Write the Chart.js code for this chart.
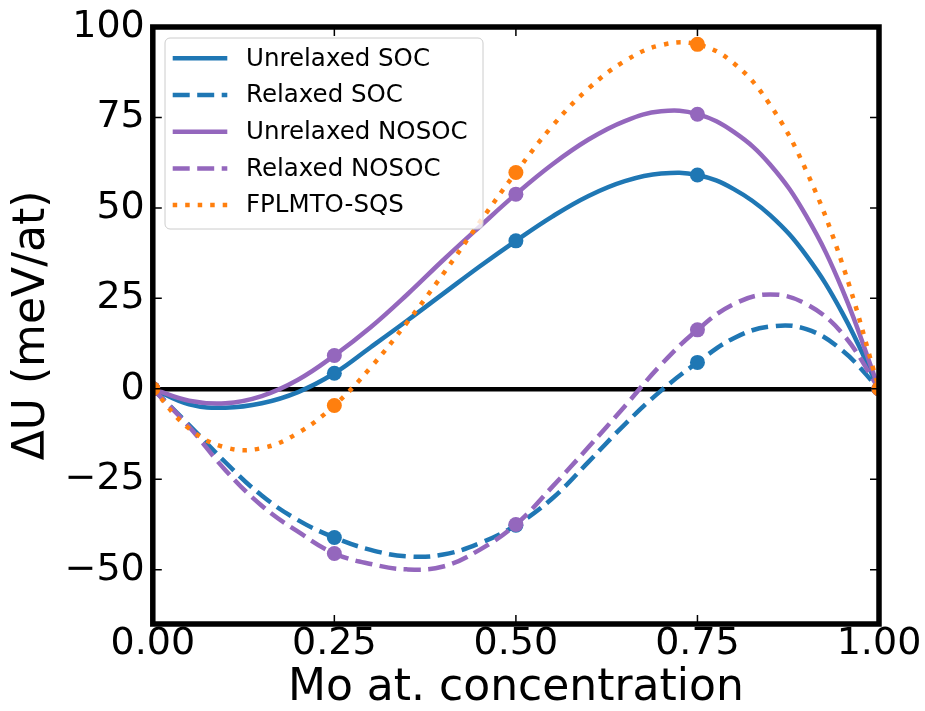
<!DOCTYPE html>
<html>
<head>
<meta charset="utf-8">
<script src="https://cdn.jsdelivr.net/npm/chart.js@4.4.1/dist/chart.umd.min.js"></script>
<style>
    html, body { margin: 0; padding: 0; background: #fff; }
    #wrap { width: 925px; height: 711px; }
</style>
</head>
<body>
<div id="wrap"><canvas id="chart" width="925" height="711"></canvas></div>
<script>
// fitted curves, every 0.05
const xGrid = [0, 0.05, 0.1, 0.15, 0.2, 0.25, 0.3, 0.35, 0.4, 0.45, 0.5, 0.55, 0.6, 0.65, 0.7, 0.75, 0.8, 0.85, 0.9, 0.95, 1];
const unrelaxedSoc   = [0, -4.3, -5.2, -4.0, -0.9, 4.3, 11.5, 18.8, 26.3, 33.8, 40.9, 47.6, 53.3, 57.4, 59.5, 59.1, 55.2, 48.0, 36.8, 20.8, 0];
const relaxedSoc     = [0, -10.0, -20.3, -29.5, -36.3, -41.1, -44.5, -46.3, -45.8, -42.7, -37.7, -30.3, -20.2, -9.8, -0.5, 7.3, 14.0, 17.2, 16.5, 10.5, 0];
const unrelaxedNosoc = [0, -3.3, -4.0, -2.0, 2.5, 9.2, 17.0, 26.0, 35.6, 44.8, 53.8, 62.0, 68.9, 74.0, 76.7, 75.9, 71.0, 62.0, 47.7, 27.2, 0];
const relaxedNosoc   = [0, -10.5, -22.5, -32.3, -39.5, -45.5, -48.4, -49.9, -49.1, -44.5, -37.5, -27.1, -16.1, -4.8, 6.7, 16.3, 23.4, 26.1, 23.4, 15.2, 0];
const fplmtoSqs      = [0, -11.0, -16.2, -16.4, -12.2, -4.6, 5.9, 18.3, 31.8, 46.0, 59.8, 72.6, 83.0, 90.6, 95.0, 95.2, 90.0, 78.5, 60.2, 34.2, 0];

// calculated points
const dotX = [0, 0.25, 0.5, 0.75, 1];
const unrelaxedSocDots   = [0, 4.3, 40.9, 59.1, 0];
const relaxedSocDots     = [0, -41.1, -37.7, 7.3, 0];
const unrelaxedNosocDots = [0, 9.2, 53.8, 75.9, 0];
const relaxedNosocDots   = [0, -45.5, -37.5, 16.3, 0];
const fplmtoDots         = [0, -4.6, 59.8, 95.2, 0];

const xTicks = [0, 0.25, 0.5, 0.75, 1];
const yTicks = [-50, -25, 0, 25, 50, 75, 100];

const BLUE = '#1f77b4';
const ORANGE = '#ff7f0e';
const PURPLE = '#9467bd';
const FONT = "'DejaVu Sans', sans-serif";

function toPoints(xs, ys) {
    return xs.map((x, i) => ({ x: x, y: ys[i] }));
}

const series = [
    { label: 'Unrelaxed SOC', curve: unrelaxedSoc, dots: unrelaxedSocDots, color: BLUE, dash: [] },
    { label: 'Relaxed SOC', curve: relaxedSoc, dots: relaxedSocDots, color: BLUE, dash: [17, 7.5] },
    { label: 'Unrelaxed NOSOC', curve: unrelaxedNosoc, dots: unrelaxedNosocDots, color: PURPLE, dash: [] },
    { label: 'Relaxed NOSOC', curve: relaxedNosoc, dots: relaxedNosocDots, color: PURPLE, dash: [17, 7.5] },
    { label: 'FPLMTO-SQS', curve: fplmtoSqs, dots: fplmtoDots, color: ORANGE, dash: [4.5, 8] }
];

const datasets = [];
series.forEach((s, i) => {
    datasets.push({
        label: s.label,
        data: toPoints(xGrid, s.curve),
        showLine: true,
        borderColor: s.color,
        borderWidth: 4.5,
        borderDash: s.dash,
        tension: 0.4,
        pointRadius: 0,
        fill: false,
        order: 20 - i * 2
    });
    datasets.push({
        data: toPoints(dotX, s.dots),
        showLine: false,
        backgroundColor: s.color,
        borderWidth: 0,
        pointRadius: 7.5,
        pointHoverRadius: 7.5,
        order: 19 - i * 2
    });
});

// spines on all four sides, inward ticks, legend box
const framePlugin = {
    id: 'framePlugin',
    afterDatasetsDraw(chart) {
        const { ctx, chartArea: a, scales } = chart;
        const tick = 9;
        ctx.save();
        ctx.strokeStyle = '#000';
        ctx.lineWidth = 1.5;
        ctx.beginPath();
        xTicks.forEach(v => {
            const px = scales.x.getPixelForValue(v);
            ctx.moveTo(px, a.bottom);
            ctx.lineTo(px, a.bottom - tick);
            ctx.moveTo(px, a.top);
            ctx.lineTo(px, a.top + tick);
        });
        yTicks.forEach(v => {
            const py = scales.y.getPixelForValue(v);
            ctx.moveTo(a.left, py);
            ctx.lineTo(a.left + tick, py);
            ctx.moveTo(a.right, py);
            ctx.lineTo(a.right - tick, py);
        });
        ctx.stroke();
        ctx.lineWidth = 5.5;
        ctx.strokeRect(a.left, a.top, a.right - a.left, a.bottom - a.top);

        // legend
        const box = { x: 165, y: 38, w: 318, h: 191 };
        ctx.beginPath();
        ctx.roundRect(box.x, box.y, box.w, box.h, 5);
        ctx.fillStyle = 'rgba(255,255,255,0.8)';
        ctx.fill();
        ctx.lineWidth = 1;
        ctx.strokeStyle = '#cccccc';
        ctx.stroke();

        ctx.font = '24.5px ' + FONT;
        ctx.textBaseline = 'middle';
        ctx.textAlign = 'left';
        const items = chart.data.datasets.filter(d => d.label);
        items.forEach((d, i) => {
            const y = 58.3 + i * 36.7;
            ctx.beginPath();
            ctx.setLineDash(d.borderDash);
            ctx.lineWidth = d.borderWidth;
            ctx.strokeStyle = d.borderColor;
            ctx.moveTo(172.7, y);
            ctx.lineTo(227.3, y);
            ctx.stroke();
            ctx.setLineDash([]);
            ctx.fillStyle = '#000';
            ctx.fillText(d.label, 246, y + 1);
        });
        ctx.restore();
    }
};

const ctx = document.getElementById('chart').getContext('2d');
const chart = new Chart(ctx, {
    type: 'scatter',
    data: { datasets: datasets },
    options: {
        responsive: false,
        animation: false,
        devicePixelRatio: 1,
        layout: { padding: { top: 26, right: 46, bottom: 0, left: 0 } },
        plugins: {
            legend: { display: false },
            tooltip: { enabled: false }
        },
        scales: {
            x: {
                type: 'linear',
                min: 0,
                max: 1,
                afterBuildTicks: scale => { scale.ticks = xTicks.map(v => ({ value: v })); },
                afterFit: scale => { scale.height = 87; },
                border: { display: false },
                grid: { display: false, drawTicks: false },
                ticks: {
                    padding: 1,
                    color: '#000',
                    maxRotation: 0,
                    font: { family: FONT, size: 38, lineHeight: 1 },
                    callback: v => v.toFixed(2)
                },
                title: {
                    display: true,
                    text: 'Mo at. concentration',
                    color: '#000',
                    padding: { top: 0, bottom: 0 },
                    font: { family: FONT, size: 44, lineHeight: 1 }
                }
            },
            y: {
                type: 'linear',
                min: -65,
                max: 100,
                afterBuildTicks: scale => { scale.ticks = yTicks.map(v => ({ value: v })); },
                afterFit: scale => { scale.width = 152.8; },
                border: { display: false },
                grid: {
                    drawTicks: false,
                    color: c => (c.tick && c.tick.value === 0) ? '#000' : 'rgba(0,0,0,0)',
                    lineWidth: 4.5
                },
                ticks: {
                    padding: 8,
                    color: '#000',
                    font: { family: FONT, size: 38, lineHeight: 1 },
                    callback: v => v < 0 ? '\u2212' + Math.abs(v) : String(v)
                },
                title: {
                    display: true,
                    text: '\u0394U (meV/at)',
                    color: '#000',
                    padding: { top: 11, bottom: 0 },
                    font: { family: FONT, size: 44, lineHeight: 1 }
                }
            }
        }
    },
    plugins: [framePlugin]
});
</script>
</body>
</html>
